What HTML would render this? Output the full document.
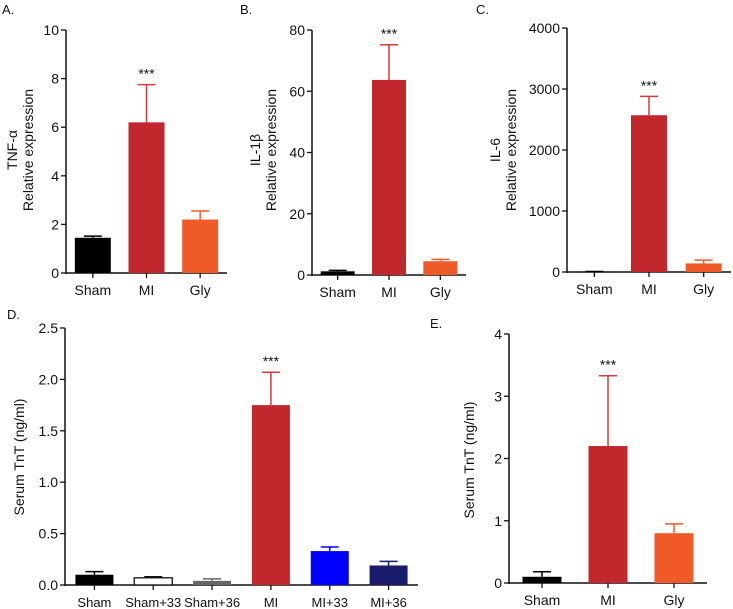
<!DOCTYPE html>
<html><head><meta charset="utf-8">
<style>
html,body{margin:0;padding:0;background:#fff;}
svg{display:block;font-family:"Liberation Sans",sans-serif;}
</style></head>
<body>
<svg id="fig" width="733" height="609" viewBox="0 0 733 609" xmlns="http://www.w3.org/2000/svg"></svg>
<script>
// Panel A data
const catsA = ["Sham","MI","Gly"];
const valsA = [1.45, 6.2, 2.2];
const errsA = [0.07, 1.55, 0.35];
const ticksA = [0,2,4,6,8,10];
// Panel B data
const catsB = ["Sham","MI","Gly"];
const valsB = [1.2, 63.7, 4.5];
const errsB = [0.3, 11.5, 0.6];
const ticksB = [0,20,40,60,80];
// Panel C data
const catsC = ["Sham","MI","Gly"];
const valsC = [5, 2570, 140];
const errsC = [3, 310, 55];
const ticksC = [0,1000,2000,3000,4000];
// Panel D data
const catsD = ["Sham","Sham+33","Sham+36","MI","MI+33","MI+36"];
const valsD = [0.10, 0.07, 0.04, 1.75, 0.33, 0.19];
const errsD = [0.03, 0.01, 0.02, 0.32, 0.04, 0.04];
const ticksD = ["0.0","0.5","1.0","1.5","2.0","2.5"];
// Panel E data
const catsE = ["Sham","MI","Gly"];
const valsE = [0.10, 2.2, 0.8];
const errsE = [0.08, 1.13, 0.15];
const ticksE = [0,1,2,3,4];

const NS="http://www.w3.org/2000/svg";
const svg=document.getElementById('fig');
function mk(tag,attrs,parent,text){const e=document.createElementNS(NS,tag);for(const k in attrs)e.setAttribute(k,attrs[k]);if(text!==undefined)e.textContent=text;(parent||svg).appendChild(e);return e;}

const RED="#c1272d", ORG="#f05a28";
const FS=14;
function panel(cfg){
  const g=mk('g',{});
  
  
  const ymax=Number(cfg.ticks[cfg.ticks.length-1]);
  const y=v=>cfg.y0-(v/ymax)*(cfg.y0-cfg.y1);
  const lab=mk('text',{x:cfg.lx,y:cfg.ly,'font-size':13,fill:'#111'},g,cfg.letter);
  
  
  const ax=mk('line',{x1:cfg.ax,y1:cfg.y1,x2:cfg.ax,y2:cfg.y0+1,stroke:'#111','stroke-width':1.5},g);
  
  
  cfg.ticks.forEach(t=>{
    const yy=y(Number(t));
    mk('line',{x1:cfg.ax-5,y1:yy,x2:cfg.ax,y2:yy,stroke:'#111','stroke-width':1.3},g);
    const tl=mk('text',{x:cfg.ax-7,y:yy+5,'font-size':FS,'text-anchor':'end',fill:'#111'},g,String(t));
    
    
  });
  const xa=mk('line',{x1:cfg.ax,y1:cfg.y0,x2:cfg.xend,y2:cfg.y0,stroke:'#111','stroke-width':1.5},g);
  
  
  cfg.ytitle.forEach((t,i)=>{
    const xx=cfg.tx[i];
    const tt=mk('text',{x:xx,y:cfg.ty,'font-size':FS,'text-anchor':'middle',fill:'#111',transform:`rotate(-90 ${xx} ${cfg.ty})`},g,t);
    
    
  });
  const n=cfg.cats.length;
  const step=(cfg.xend-cfg.ax-cfg.pad*2)/n;
  cfg.cats.forEach((c,i)=>{
    const cx=cfg.ax+cfg.pad+step*(i+0.5);
    const w=cfg.bw;
    const v=cfg.vals[i], e=cfg.errs[i];
    const col=cfg.colors[i];
    const ecol=col===RED?'#d63a40':(col==='#fff'?'#111':col);
    const top=y(v+e);
    mk('line',{x1:cx,y1:y(v),x2:cx,y2:top,stroke:ecol,'stroke-width':1.5},g);
    mk('line',{x1:cx-9,y1:top,x2:cx+9,y2:top,stroke:ecol,'stroke-width':1.5},g);
    const b=mk('rect',{x:cx-w/2,y:y(v),width:w,height:Math.max(cfg.y0-y(v),0.8),fill:col,stroke:col==='#fff'?'#111':'none','stroke-width':1.3},g);
    
    
    mk('line',{x1:cx,y1:cfg.y0,x2:cx,y2:cfg.y0+5,stroke:'#111','stroke-width':1.3},g);
    const xl=mk('text',{x:cx,y:cfg.y0+22,'font-size':cfg.xfs||FS,'text-anchor':'middle',fill:'#111'},g,c);
    
    
    if(c==='MI'){
      const s=mk('text',{x:cx,y:top-6,'font-size':14,'text-anchor':'middle',fill:'#111'},g,'***');
      
      
    }
  });
}
const c3=["#000",RED,ORG];
panel({name:'panel-a-tnf',letter:'A.',lx:2,ly:14,ax:66,y0:273,y1:30,xend:227,pad:0,bw:36,cats:catsA,vals:valsA,errs:errsA,ticks:ticksA,colors:c3,ytitle:['TNF-α','Relative expression'],tx:[17,33],ty:150});
panel({name:'panel-b-il1b',letter:'B.',lx:240,ly:14,ax:312,y0:275,y1:30,xend:466,pad:0,bw:34,cats:catsB,vals:valsB,errs:errsB,ticks:ticksB,colors:c3,ytitle:['IL-1β','Relative expression'],tx:[260,276],ty:150});
panel({name:'panel-c-il6',letter:'C.',lx:476,ly:14,ax:567,y0:272,y1:28,xend:731,pad:0,bw:36,cats:catsC,vals:valsC,errs:errsC,ticks:ticksC,colors:c3,ytitle:['IL-6','Relative expression'],tx:[500,516],ty:150});
panel({name:'panel-d-tnt',letter:'D.',lx:7,ly:319,ax:65,y0:585,y1:328,xend:418,pad:0,bw:38,xfs:13,cats:catsD,vals:valsD,errs:errsD,ticks:ticksD,colors:["#000","#fff","#666",RED,"#0000ff","#1b1b6b"],ytitle:['Serum TnT (ng/ml)'],tx:[24],ty:457});
panel({name:'panel-e-tnt',letter:'E.',lx:430,ly:328,ax:509,y0:583,y1:334,xend:707,pad:0,bw:39,cats:catsE,vals:valsE,errs:errsE,ticks:ticksE,colors:c3,ytitle:['Serum TnT (ng/ml)'],tx:[474],ty:460});
</script>
</body></html>
